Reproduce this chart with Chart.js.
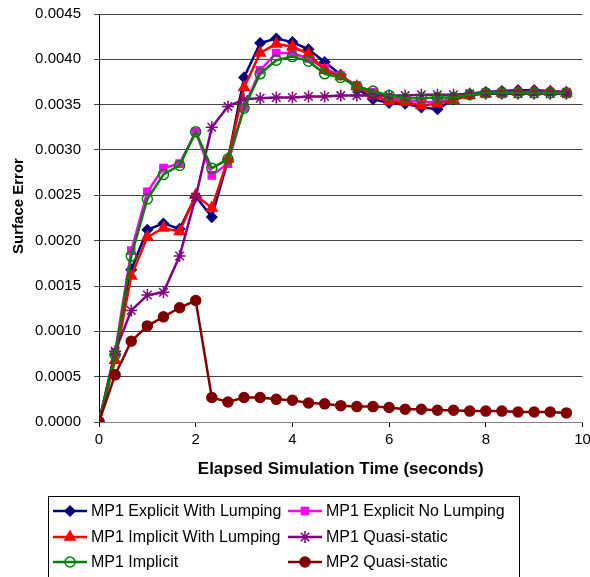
<!DOCTYPE html>
<html>
<head>
<meta charset="utf-8">
<script src="https://cdn.jsdelivr.net/npm/chart.js@4"></script>
<style>
  html, body { margin: 0; padding: 0; background: #fff; }
  #wrap { width: 590px; height: 577px; position: relative; }
</style>
</head>
<body>
<div id="wrap"><canvas id="surfaceChart"></canvas></div>
<script>
// Sample times (seconds)
const times = [0, 0.333, 0.667, 1, 1.333, 1.667, 2, 2.333, 2.667, 3, 3.333, 3.667, 4, 4.333, 4.667,
    5, 5.333, 5.667, 6, 6.333, 6.667, 7, 7.333, 7.667, 8, 8.333, 8.667, 9, 9.333, 9.667];

const explicitLumping = [0, 0.00075, 0.00168, 0.00212, 0.00219, 0.00213, 0.00249, 0.00226, 0.00289, 0.00380,
    0.00418, 0.00423, 0.00419, 0.00411, 0.00397, 0.00383, 0.00368, 0.00356, 0.00352, 0.00351,
    0.00347, 0.00345, 0.00356, 0.00362, 0.00364, 0.00365, 0.00366, 0.00366, 0.00365, 0.00364];

const explicitNoLumping = [0, 0.00077, 0.00189, 0.00254, 0.00280, 0.00285, 0.00320, 0.00272, 0.00285, 0.00347,
    0.00388, 0.00407, 0.00407, 0.00401, 0.00390, 0.00382, 0.00371, 0.00364, 0.00357, 0.00355,
    0.00353, 0.00353, 0.00357, 0.00361, 0.00363, 0.00364, 0.00364, 0.00364, 0.00364, 0.00364];

const implicitLumping = [0, 0.00068, 0.00161, 0.00204, 0.00214, 0.00210, 0.00250, 0.00236, 0.00290, 0.00369,
    0.00407, 0.00417, 0.00414, 0.00406, 0.00388, 0.00381, 0.00370, 0.00360, 0.00354, 0.00353,
    0.00349, 0.00351, 0.00355, 0.00360, 0.00362, 0.00363, 0.00364, 0.00364, 0.00364, 0.00363];

const mp1QuasiStatic = [0, 0.00078, 0.00123, 0.00140, 0.00143, 0.00183, 0.00248, 0.00325, 0.00348, 0.00356,
    0.00357, 0.00358, 0.00358, 0.00359, 0.00359, 0.00360, 0.00360, 0.00360, 0.00360, 0.00360,
    0.00361, 0.00361, 0.00361, 0.00362, 0.00362, 0.00362, 0.00362, 0.00362, 0.00362, 0.00362];

const implicitOnly = [0, 0.00074, 0.00183, 0.00246, 0.00273, 0.00283, 0.00320, 0.00280, 0.00290, 0.00346,
    0.00384, 0.00399, 0.00403, 0.00398, 0.00384, 0.00380, 0.00370, 0.00365, 0.00360, 0.00357,
    0.00357, 0.00358, 0.00358, 0.00361, 0.00363, 0.00363, 0.00363, 0.00363, 0.00363, 0.00363];

const mp2QuasiStatic = [0, 0.00052, 0.00089, 0.00106, 0.00116, 0.00126, 0.00134, 0.00027, 0.00022, 0.00027,
    0.00027, 0.00025, 0.00024, 0.00021, 0.00020, 0.00018, 0.00017, 0.00017, 0.00016, 0.00014,
    0.00014, 0.00013, 0.00013, 0.00012, 0.00012, 0.00012, 0.00011, 0.00011, 0.00011, 0.00010];

const seriesNames = ["MP1 Explicit With Lumping", "MP1 Explicit No Lumping", "MP1 Implicit With Lumping",
    "MP1 Quasi-static", "MP1 Implicit", "MP2 Quasi-static"];

const yTitle = "Surface Error";

const FONT = "'Liberation Sans', Arial, sans-serif";

function toPoints(values) {
    return values.map((v, i) => ({ x: times[i], y: v }));
}

function makeSet(idx, values, color, style, radius, fill) {
    return {
        label: seriesNames[idx],
        data: toPoints(values),
        borderColor: color,
        backgroundColor: fill,
        borderWidth: 2.5,
        pointStyle: style,
        pointRadius: radius,
        pointBorderColor: color,
        pointBackgroundColor: fill,
        pointBorderWidth: 1.5,
        tension: 0,
        order: 5 - idx   // later series on top, like Excel
    };
}

const datasets = [
    makeSet(0, explicitLumping, "#000080", "rectRot", 5, "#000080"),
    makeSet(1, explicitNoLumping, "#FF00FF", "rect", 5, "#FF00FF"),
    makeSet(2, implicitLumping, "#FF0000", "triangle", 6, "#FF0000"),
    makeSet(3, mp1QuasiStatic, "#800080", "star", 6, "#800080"),
    makeSet(4, implicitOnly, "#008000", "circle", 5, "rgba(0,0,0,0)"),
    makeSet(5, mp2QuasiStatic, "#800000", "circle", 5, "#800000")
];

// y title sits a bit above the middle of the axis in the original
const sideTitle = {
    id: "sideTitle",
    afterDraw(chart) {
        const ctx = chart.ctx;
        ctx.save();
        ctx.translate(19, 206);
        ctx.rotate(-Math.PI / 2);
        ctx.font = "bold 15px " + FONT;
        ctx.fillStyle = "#000";
        ctx.textAlign = "center";
        ctx.textBaseline = "middle";
        ctx.fillText(yTitle, 0, 0);
        ctx.restore();
    }
};

// Two-column boxed legend under the axis, Excel style
const boxLegend = {
    id: "boxLegend",
    afterDraw(chart) {
        const ctx = chart.ctx;
        ctx.save();
        ctx.strokeStyle = "#000";
        ctx.lineWidth = 1;
        ctx.strokeRect(48.5, 496.5, 471, 100);
        ctx.font = "16px " + FONT;
        ctx.textBaseline = "middle";
        const colX = [53, 288];
        const rowY = [511, 537, 562];
        chart.data.datasets.forEach((ds, i) => {
            const x0 = colX[i % 2];
            const y = rowY[Math.floor(i / 2)];
            ctx.strokeStyle = ds.borderColor;
            ctx.lineWidth = 2.5;
            ctx.beginPath();
            ctx.moveTo(x0, y);
            ctx.lineTo(x0 + 34, y);
            ctx.stroke();
            const opts = {
                pointStyle: ds.pointStyle,
                radius: ds.pointRadius,
                rotation: 0,
                borderWidth: ds.pointBorderWidth
            };
            ctx.fillStyle = ds.pointBackgroundColor;
            ctx.strokeStyle = ds.pointBorderColor;
            ctx.lineWidth = ds.pointBorderWidth;
            Chart.helpers.drawPoint(ctx, opts, x0 + 17, y);
            ctx.fillStyle = "#000";
            ctx.fillText(ds.label, x0 + 38, y + 1);
        });
        ctx.restore();
    }
};

new Chart(document.getElementById("surfaceChart"), {
    type: "line",
    data: { datasets },
    plugins: [boxLegend, sideTitle],
    options: {
        responsive: true,
        maintainAspectRatio: false,
        animation: false,
        layout: { padding: { top: 14, right: 7, bottom: 95, left: 0 } },
        plugins: {
            legend: { display: false },
            tooltip: { enabled: false }
        },
        scales: {
            x: {
                type: "linear",
                min: 0,
                max: 10,
                ticks: {
                    stepSize: 2,
                    color: "#000",
                    font: { family: FONT, size: 15 },
                    padding: 4,
                    maxRotation: 0
                },
                grid: {
                    drawOnChartArea: false,
                    drawTicks: true,
                    tickLength: 5,
                    color: "#000"
                },
                border: { display: true, color: "#808080", width: 1 },
                title: {
                    display: true,
                    text: "Elapsed Simulation Time (seconds)",
                    color: "#000",
                    font: { family: FONT, size: 17, weight: "bold" },
                    padding: { top: 0, bottom: 2 }
                },
                afterFit(scale) {
                    scale.height = 60;
                    scale.paddingLeft = 0;
                    scale.paddingRight = 0;
                }
            },
            y: {
                min: 0,
                max: 0.0045,
                ticks: {
                    stepSize: 0.0005,
                    color: "#000",
                    font: { family: FONT, size: 15 },
                    padding: 13,
                    callback: v => Number(v).toFixed(4)
                },
                grid: {
                    color: "#444",
                    lineWidth: 1,
                    drawTicks: true,
                    tickLength: 5
                },
                border: { display: true, color: "#000", width: 1 },
                title: { display: false },
                afterFit(scale) {
                    scale.width = 99;
                    scale.paddingTop = 0;
                    scale.paddingBottom = 0;
                }
            }
        }
    }
});
</script>
</body>
</html>
